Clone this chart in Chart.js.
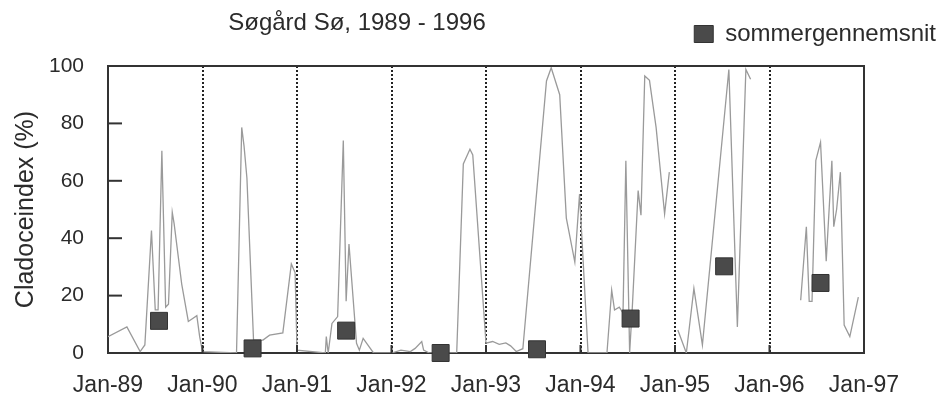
<!DOCTYPE html>
<html>
<head>
<meta charset="utf-8">
<script src="https://cdn.jsdelivr.net/npm/chart.js@4.4.0/dist/chart.umd.min.js"></script>
<style>
  html, body { margin: 0; padding: 0; background: #fff; }
  #wrap { width: 939px; height: 400px; }
</style>
</head>
<body>
<div id="wrap"><canvas id="cladoChart"></canvas></div>
<script>
const tickLabels = ['Jan-89', 'Jan-90', 'Jan-91', 'Jan-92', 'Jan-93', 'Jan-94', 'Jan-95', 'Jan-96', 'Jan-97']

// sampling dates (decimal years) and cladoceindex values
const lineYears = [
    1989.00, 1989.20, 1989.34, 1989.39, 1989.46, 1989.50, 1989.53, 1989.57, 1989.61, 1989.64,
    1989.68, 1989.70, 1989.78, 1989.85, 1989.94, 1989.97,
    1990.00, 1990.36, 1990.415, 1990.44, 1990.47, 1990.54, 1990.64, 1990.71, 1990.85, 1990.94, 1990.98,
    1991.00, 1991.30, 1991.31, 1991.33, 1991.37, 1991.43, 1991.49, 1991.52, 1991.55, 1991.63,
    1991.66, 1991.70, 1991.81,
    1992.00, 1992.10, 1992.20, 1992.25, 1992.32, 1992.34, 1992.40, 1992.69, 1992.76, 1992.83, 1992.86,
    1993.00, 1993.07, 1993.14, 1993.21, 1993.26, 1993.32, 1993.39, 1993.64, 1993.69, 1993.78,
    1993.85, 1993.94, 1993.99,
    1994.08, 1994.28, 1994.33, 1994.36, 1994.41, 1994.45, 1994.48, 1994.52, 1994.55, 1994.61,
    1994.64, 1994.68, 1994.73, 1994.80, 1994.89, 1994.94,
    1994.98,
    1995.03, 1995.12, 1995.20, 1995.29, 1995.57, 1995.66, 1995.75, 1995.80,
    1996.00,
    1996.33, 1996.39, 1996.42, 1996.45, 1996.49, 1996.54, 1996.60, 1996.66, 1996.68, 1996.71,
    1996.75, 1996.79, 1996.85, 1996.94
]
const lineValues = [
    5.7, 9.1, 0.5, 2.8, 42.7, 15, 15, 70.5, 16, 17,
    49, 45, 24, 11, 13, 5.7,
    0.5, 0, 78.6, 72, 61, 4.5, 4.5, 6.2, 7, 31, 28,
    1, 0, 5.7, 0, 10.3, 12.7, 74, 18, 38, 3.4,
    1, 5.1, 0,
    0, 1, 0.5, 1.6, 4, 1, 0, 0, 65.9, 71, 69,
    3.4, 4, 3, 3.5, 2.5, 0.5, 1.5, 94.8, 99.4, 90,
    47, 31.7, 55.4,
    0, 0, 21.9, 15, 16, 14, 67, 0, 17, 56.6,
    48, 96.5, 95, 78.6, 48.5, 63,
    null,
    8, 0, 22.5, 2.8, 98.8, 9.1, 98.8, 95.4,
    null,
    18.4, 44, 18, 18, 67, 73.4, 32, 67, 44, 50,
    63, 9.7, 5.7, 19.5
]

// summer means
const summerYears = [1989.54, 1990.53, 1991.52, 1992.52, 1993.54, 1994.53, 1995.52, 1996.54]
const summerValues = [11.2, 1.6, 7.8, 0, 1.3, 12, 30.2, 24.4]

const lineData = lineYears.map((x, i) => ({ x: x, y: lineValues[i] }))
const summerData = summerYears.map((x, i) => ({ x: x, y: summerValues[i] }))

const FONT = "'Liberation Sans', Arial, sans-serif"
const TEXT = '#2b2b2b'

const framePlugin = {
    id: 'frame',
    beforeInit(chart) {
        // push plot area down a bit under the legend
        const fit = chart.legend.fit
        chart.legend.fit = function () {
            fit.call(this)
            this.height += 10
        }
    },
    afterLayout(chart) {
        // legend sits further right than the plot area
        chart.legend.left += 82
        chart.legend.right += 82
    },
    afterDraw(chart) {
        const ctx = chart.ctx
        const a = chart.chartArea
        const x = chart.scales.x
        const y = chart.scales.y
        ctx.save()
        ctx.strokeStyle = '#333'
        ctx.lineWidth = 2
        ctx.beginPath()
        ctx.moveTo(a.left, a.top)
        ctx.lineTo(a.right, a.top)
        ctx.lineTo(a.right, a.bottom)
        ctx.stroke()
        // inner ticks on y axis
        y.ticks.forEach(t => {
            const py = y.getPixelForValue(t.value)
            ctx.beginPath()
            ctx.moveTo(a.left, py)
            ctx.lineTo(a.left + 14, py)
            ctx.stroke()
        })
        // short ticks at each year on x axis
        x.ticks.forEach(t => {
            const px = x.getPixelForValue(t.value)
            ctx.beginPath()
            ctx.moveTo(px, a.bottom)
            ctx.lineTo(px, a.bottom - 8)
            ctx.stroke()
        })
        // title
        ctx.fillStyle = TEXT
        ctx.font = '24px ' + FONT
        ctx.textAlign = 'center'
        ctx.textBaseline = 'middle'
        ctx.fillText('Søgård Sø, 1989 - 1996', 357, 23)
        ctx.restore()
    }
}

const ctx = document.getElementById('cladoChart').getContext('2d')
const cladoChart = new Chart(ctx, {
    type: 'scatter',
    data: {
        datasets: [{
            label: 'sommergennemsnit',
            data: summerData,
            pointStyle: 'rect',
            pointRadius: 12,
            pointHoverRadius: 12,
            backgroundColor: '#4a4a4a',
            borderColor: '#333',
            borderWidth: 1,
            clip: false
        }, {
            label: 'Cladoceindex',
            data: lineData,
            showLine: true,
            spanGaps: false,
            borderColor: '#9a9a9a',
            borderWidth: 1.3,
            pointRadius: 0,
            tension: 0
        }]
    },
    options: {
        responsive: true,
        maintainAspectRatio: false,
        animation: false,
        layout: {
            padding: { left: 0, right: 75, top: 12, bottom: 0 }
        },
        plugins: {
            legend: {
                display: true,
                position: 'top',
                align: 'end',
                labels: {
                    filter: item => item.datasetIndex === 0,
                    boxWidth: 19,
                    boxHeight: 17,
                    color: TEXT,
                    font: { family: FONT, size: 24 },
                    padding: 10
                }
            },
            tooltip: { enabled: false }
        },
        scales: {
            x: {
                type: 'linear',
                min: 1989,
                max: 1997,
                afterFit: scale => { scale.height = 47 },
                afterBuildTicks: scale => {
                    scale.ticks = tickLabels.map((l, i) => ({ value: 1989 + i }))
                },
                ticks: {
                    stepSize: 1,
                    autoSkip: false,
                    maxRotation: 0,
                    padding: 19,
                    color: TEXT,
                    font: { family: FONT, size: 23 },
                    callback: (v) => tickLabels[Math.round(v) - 1989]
                },
                grid: {
                    color: '#222',
                    lineWidth: 2,
                    drawTicks: false
                },
                border: { display: true, color: '#333', width: 2, dash: [2, 2] }
            },
            y: {
                min: 0,
                max: 100,
                afterFit: scale => { scale.width = 108 },
                ticks: {
                    stepSize: 20,
                    padding: 24,
                    color: TEXT,
                    font: { family: FONT, size: 21 }
                },
                grid: { drawOnChartArea: false, drawTicks: false },
                border: { display: true, color: '#333', width: 2 },
                title: {
                    display: true,
                    text: 'Cladoceindex (%)',
                    color: TEXT,
                    font: { family: FONT, size: 25 },
                    padding: { top: 11, bottom: 0 }
                }
            }
        }
    },
    plugins: [framePlugin]
})
</script>
</body>
</html>
